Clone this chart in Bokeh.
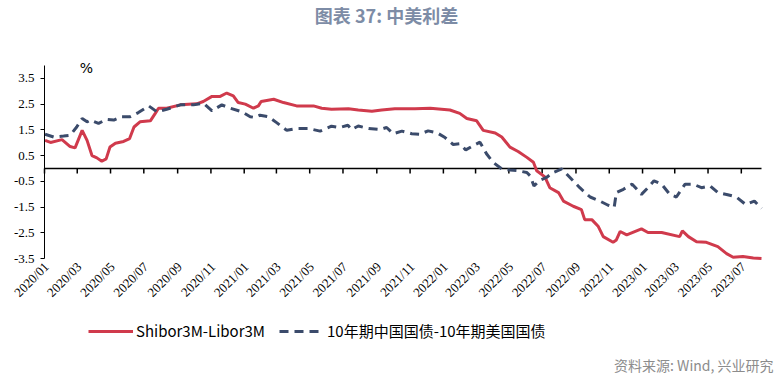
import math
import pandas as pd
from bokeh.plotting import figure
from bokeh.models import (FixedTicker, NumeralTickFormatter, Label, Legend, LegendItem)
from bokeh.embed import file_html
from bokeh.resources import INLINE

# ---------------- data ----------------
title_text = "图表 37: 中美利差"
source_text = "资料来源: Wind, 兴业研究"
unit_text = "%"
series_names = ["Shibor3M-Libor3M", "10年期中国国债-10年期美国国债"]

red_dates = [
    "2020-01-02", "2020-01-12", "2020-02-02", "2020-02-17", "2020-02-26", "2020-03-10",
    "2020-03-19", "2020-03-28", "2020-04-06", "2020-04-15", "2020-04-23", "2020-04-30",
    "2020-05-10", "2020-05-25", "2020-06-05", "2020-06-13", "2020-06-24", "2020-07-13",
    "2020-07-22", "2020-07-28", "2020-08-12", "2020-09-06", "2020-10-06", "2020-10-18",
    "2020-11-03", "2020-11-18", "2020-11-30", "2020-12-12", "2020-12-21", "2021-01-03",
    "2021-01-18", "2021-01-27", "2021-02-01", "2021-02-24", "2021-03-14", "2021-04-07",
    "2021-05-08", "2021-05-23", "2021-06-10", "2021-07-11", "2021-07-29", "2021-08-23",
    "2021-09-10", "2021-10-04", "2021-11-10", "2021-12-08", "2022-01-13", "2022-01-31",
    "2022-02-13", "2022-03-03", "2022-03-15", "2022-04-06", "2022-04-18", "2022-05-03",
    "2022-05-18", "2022-06-03", "2022-06-15", "2022-06-21", "2022-07-06", "2022-07-15",
    "2022-07-31", "2022-08-09", "2022-08-27", "2022-09-11", "2022-09-17", "2022-09-30",
    "2022-10-12", "2022-10-21", "2022-11-08", "2022-11-14", "2022-11-21", "2022-12-03",
    "2022-12-30", "2023-01-11", "2023-02-05", "2023-03-10", "2023-03-15", "2023-03-26",
    "2023-04-10", "2023-04-28", "2023-05-19", "2023-06-04", "2023-06-16", "2023-07-04",
    "2023-07-23", "2023-08-07",
]
red_values = [
    1.09, 1.01, 1.12, 0.85, 0.80, 1.48,
    1.09, 0.50, 0.41, 0.28, 0.37, 0.83,
    0.98, 1.05, 1.16, 1.61, 1.81, 1.85,
    2.14, 2.34, 2.34, 2.47, 2.51, 2.60,
    2.80, 2.80, 2.93, 2.82, 2.56, 2.50,
    2.34, 2.43, 2.60, 2.69, 2.56, 2.43,
    2.43, 2.34, 2.30, 2.32, 2.27, 2.22,
    2.27, 2.32, 2.32, 2.34, 2.27, 2.14,
    1.94, 1.85, 1.48, 1.38, 1.22, 0.83,
    0.66, 0.43, 0.24, -0.09, -0.33, -0.75,
    -0.94, -1.27, -1.47, -1.60, -1.99, -1.99,
    -2.26, -2.65, -2.87, -2.78, -2.45, -2.58,
    -2.35, -2.49, -2.49, -2.65, -2.43, -2.65,
    -2.85, -2.87, -3.04, -3.31, -3.45, -3.42,
    -3.48, -3.50,
]

blue_dates = [
    "2020-01-02", "2020-01-18", "2020-02-05", "2020-02-17", "2020-02-29", "2020-03-10",
    "2020-03-19", "2020-03-25", "2020-04-09", "2020-04-24", "2020-05-07", "2020-05-22",
    "2020-06-06", "2020-06-21", "2020-07-10", "2020-07-25", "2020-08-12", "2020-09-06",
    "2020-09-30", "2020-10-18", "2020-11-03", "2020-11-21", "2020-12-06", "2020-12-28",
    "2021-01-12", "2021-01-21", "2021-01-30", "2021-02-14", "2021-03-02", "2021-03-20",
    "2021-04-07", "2021-04-29", "2021-05-20", "2021-06-10", "2021-06-25", "2021-07-10",
    "2021-07-17", "2021-07-29", "2021-08-17", "2021-09-07", "2021-09-19", "2021-10-01",
    "2021-10-17", "2021-11-04", "2021-11-19", "2021-12-04", "2021-12-20", "2022-01-04",
    "2022-01-19", "2022-01-31", "2022-02-11", "2022-02-25", "2022-03-09", "2022-03-21",
    "2022-04-02", "2022-04-18", "2022-05-03", "2022-05-18", "2022-06-03", "2022-06-09",
    "2022-06-16", "2022-06-27", "2022-07-09", "2022-07-21", "2022-08-06", "2022-08-21",
    "2022-09-08", "2022-09-27", "2022-10-15", "2022-10-30", "2022-11-10", "2022-11-14",
    "2022-11-27", "2022-12-13", "2022-12-30", "2023-01-11", "2023-01-22", "2023-02-05",
    "2023-02-20", "2023-03-04", "2023-03-20", "2023-04-04", "2023-04-19", "2023-05-05",
    "2023-05-19", "2023-06-04", "2023-06-22", "2023-07-09", "2023-07-25", "2023-08-07",
]
blue_values = [
    1.33, 1.22, 1.26, 1.29, 1.61, 1.94,
    1.81, 1.88, 1.75, 1.91, 1.88, 2.01,
    2.01, 2.17, 2.43, 2.20, 2.30, 2.47,
    2.47, 2.54, 2.24, 2.47, 2.34, 2.20,
    2.01, 1.98, 2.07, 2.01, 1.77, 1.48,
    1.55, 1.55, 1.45, 1.64, 1.59, 1.68,
    1.51, 1.65, 1.55, 1.51, 1.59, 1.35,
    1.45, 1.35, 1.33, 1.46, 1.39, 1.20,
    0.93, 0.96, 0.72, 0.89, 1.02, 0.57,
    0.24, -0.02, -0.06, -0.09, -0.16, -0.29,
    -0.68, -0.46, -0.35, -0.16, -0.02, -0.35,
    -0.75, -1.11, -1.27, -1.43, -1.51, -0.94,
    -0.81, -0.61, -1.01, -0.75, -0.48, -0.61,
    -1.01, -1.11, -0.61, -0.61, -0.75, -0.68,
    -0.94, -1.01, -1.11, -1.40, -1.27, -1.56,
]

tick_labels = [
    "2020/01", "2020/03", "2020/05", "2020/07", "2020/09", "2020/11",
    "2021/01", "2021/03", "2021/05", "2021/07", "2021/09", "2021/11",
    "2022/01", "2022/03", "2022/05", "2022/07", "2022/09", "2022/11",
    "2023/01", "2023/03", "2023/05", "2023/07",
]
y_ticks = [-3.5, -2.5, -1.5, -0.5, 0.5, 1.5, 2.5, 3.5]
y_min, y_max = -3.5, 4.0
x_start, x_end = "2020-01-01", "2023-08-07"

# ---------------- layout / styles ----------------
W, H = 778, 380
AX_LEFT, AX_RIGHT = 44, 761     # x pixel of x_start and x_end
AX_TOP, AX_BOTTOM = 65, 258     # y pixel of y_max and y_min
RED = "#D03A4C"
BLUE = "#3B4B6B"
TITLE_COLOR = "#7D8CA6"
SERIF = "Liberation Serif"
CJK = "Noto Sans CJK SC"

# the frame covers the whole canvas; ranges are widened so that the data area
# sits where it does in the reference
px_per_unit = (AX_BOTTOM - AX_TOP) / (y_max - y_min)
view_top = y_max + AX_TOP / px_per_unit
view_bottom = y_min - (H - AX_BOTTOM) / px_per_unit
t0, t1 = pd.Timestamp(x_start), pd.Timestamp(x_end)
px_per_day = (AX_RIGHT - AX_LEFT) / (t1 - t0).days
view_left = t0 - pd.Timedelta(days=AX_LEFT / px_per_day)
view_right = t0 + pd.Timedelta(days=(W - AX_LEFT) / px_per_day)

red_dt = pd.to_datetime(red_dates)
blue_dt = pd.to_datetime(blue_dates)
tick_dt = pd.to_datetime([t.replace("/", "-") + "-01" for t in tick_labels])

p = figure(width=W, height=H, output_backend="svg", toolbar_location=None,
           x_axis_type="datetime", x_range=(view_left, view_right),
           y_range=(view_bottom, view_top),
           min_border_left=0, min_border_right=0, min_border_top=0, min_border_bottom=0)
p.outline_line_color = None
p.xgrid.visible = False
p.ygrid.visible = False
p.xaxis.visible = False
p.background_fill_color = "white"
p.border_fill_color = "white"

# y axis, pinned at the first date
ya = p.yaxis[0]
ya.fixed_location = t0.value / 1e6
ya.bounds = (y_min, y_max)
ya.ticker = FixedTicker(ticks=y_ticks)
ya.formatter = NumeralTickFormatter(format="0.0")
ya.axis_line_color = "black"
ya.axis_line_width = 1
ya.major_tick_line_color = "black"
ya.major_tick_out = 4
ya.major_tick_in = 0
ya.minor_tick_line_color = None
ya.major_label_standoff = 6
ya.major_label_text_font = SERIF
ya.major_label_text_font_size = "13px"
ya.major_label_text_color = "black"

# horizontal axis line at 0 with tick marks, and rotated date labels under the plot
p.segment(x0=[t0], y0=[0], x1=[t1], y1=[0], line_color="black", line_width=1.5)
p.segment(x0=tick_dt, y0=[0] * len(tick_dt), x1=tick_dt, y1=[-5 / px_per_unit] * len(tick_dt),
          line_color="black", line_width=1.5)
p.text(x=tick_dt, y=[y_min] * len(tick_dt), text=tick_labels, angle=math.pi / 4,
       text_align="right", text_baseline="middle", x_offset=2, y_offset=6,
       text_font="Liberation Serif", text_font_size="13px", text_color="black")

# series
r1 = p.line(red_dt, red_values, line_color=RED, line_width=3)
r2 = p.line(blue_dt, blue_values, line_color=BLUE, line_width=3, line_dash="9 6")

legend = Legend(items=[LegendItem(label=series_names[0], renderers=[r1]),
                       LegendItem(label=series_names[1], renderers=[r2])],
                location=(88, H - 341), orientation="horizontal",
                glyph_width=45, glyph_height=20, label_standoff=3, spacing=14,
                padding=0, margin=0, border_line_color=None, background_fill_alpha=0,
                label_text_font=CJK, label_text_font_size="15px", label_text_color="black")
p.add_layout(legend)

# texts (screen units relative to the frame's bottom-left corner)
p.add_layout(Label(x=386, y=H - 14, x_units="screen", y_units="screen", text=title_text,
                   text_align="center", text_baseline="middle", text_font=CJK,
                   text_font_size="18px", text_font_style="bold", text_color=TITLE_COLOR))
p.add_layout(Label(x=773, y=H - 364, x_units="screen", y_units="screen", text=source_text,
                   text_align="right", text_baseline="middle", text_font=CJK,
                   text_font_size="14px", text_color="#8C8C8C"))
p.add_layout(Label(x=86, y=H - 67, x_units="screen", y_units="screen", text=unit_text,
                   text_align="center", text_baseline="middle", text_font="DejaVu Sans",
                   text_font_size="14px", text_color="black"))

open("out.html", "w").write(file_html(p, INLINE))
